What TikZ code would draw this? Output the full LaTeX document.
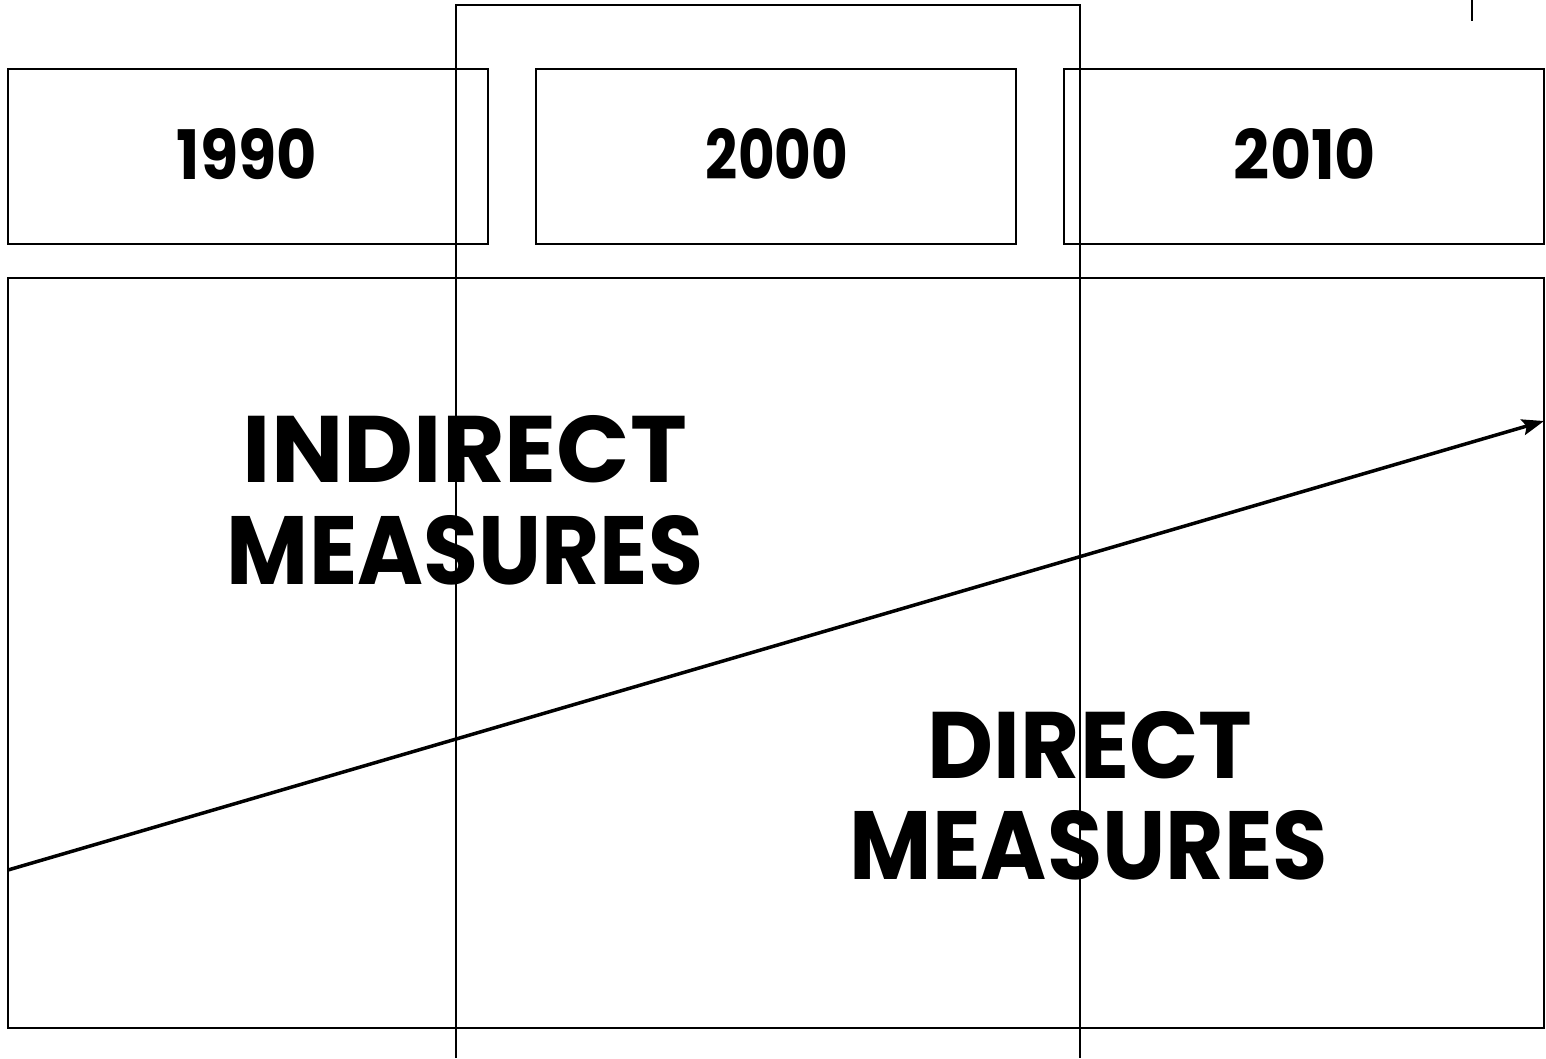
\documentclass[tikz,border=0pt]{standalone}
\usepackage{fontspec}
\setmainfont{Poppins}
\usetikzlibrary{arrows.meta}
\begin{document}
\begin{tikzpicture}[x=1pt,y=-1pt,
  frame/.style={draw=black,line width=2pt},
  yearlbl/.style={inner sep=0pt,font=\bfseries},
  biglbl/.style={inner sep=0pt,font=\bfseries,align=center}]
\useasboundingbox (0,0) rectangle (1546,1058);
% boxes
\node[frame,minimum width=480pt,minimum height=175pt,inner sep=0pt] (b1990) at (248,156.5) {};
\node[frame,minimum width=480pt,minimum height=175pt,inner sep=0pt] (b2000) at (776,156.5) {};
\node[frame,minimum width=480pt,minimum height=175pt,inner sep=0pt] (b2010) at (1304,156.5) {};
\node[frame,minimum width=1536pt,minimum height=750pt,inner sep=0pt] (main) at (776,653) {};
% tall open frame
\coordinate (t1) at (456,1058);
\coordinate (t2) at (456,5);
\coordinate (t3) at (1080,5);
\coordinate (t4) at (1080,1058);
\draw[line width=2pt] (t1) -- (t2) -- (t3) -- (t4);
% small tick top right
\coordinate (k1) at (1472,0);
\coordinate (k2) at (1472,21);
\draw[line width=2pt] (k1) -- (k2);
% year labels
\node[yearlbl] (y1990) at (247,154) {\resizebox{140pt}{51pt}{1990}};
\node[yearlbl] (y2000) at (777,154) {\resizebox{142pt}{51pt}{2000}};
\node[yearlbl] (y2010) at (1305,154) {\resizebox{142pt}{51pt}{2010}};
% arrow
\coordinate (a0) at (8,870);
\coordinate (a1) at (1544,421);
\draw[line width=3.5pt,-{Stealth[length=22pt,width=16pt,inset=4pt]}] (a0) -- (a1);
% big labels
\node[biglbl] (ind1) at (465,449) {\resizebox{444pt}{67pt}{INDIRECT}};
\node[biglbl] (ind2) at (465,550) {\resizebox{476pt}{69pt}{MEASURES}};
\node[biglbl] (dir1) at (1090,745) {\resizebox{324pt}{67pt}{DIRECT}};
\node[biglbl] (dir2) at (1089,845) {\resizebox{478pt}{69pt}{MEASURES}};
\end{tikzpicture}
\end{document}
